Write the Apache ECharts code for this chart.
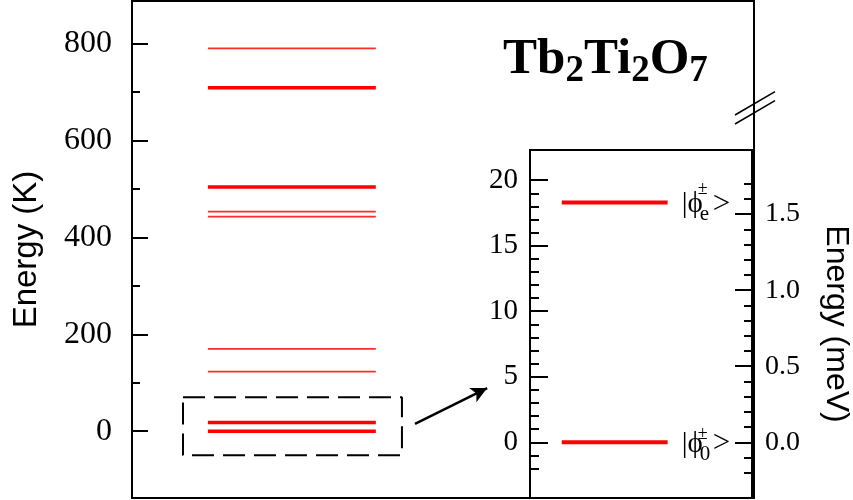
<!DOCTYPE html>
<html><head><meta charset="utf-8">
<script src="https://cdn.jsdelivr.net/npm/echarts@6/dist/echarts.min.js"></script>
<style>html,body{margin:0;padding:0;background:#fff}#c{width:853px;height:500px}</style>
</head><body><div id="c"></div>
<script>
// ---- data (Kelvin) ----
const levelsThick = [0, 18, 504, 709];          // doublets
const levelsThin = [123, 170, 443, 453, 790];   // singlets
const mainTicks = [0, 200, 400, 600, 800];
const mainMinorTicks = [100, 300, 500, 700];
const insetLevels = [0, 18.3];
const insetSubs = ['0', 'e'];
const insetTicks = [0, 5, 10, 15, 20];
const insetMinorTicks = [-2, -1, 1, 2, 3, 4, 6, 7, 8, 9, 11, 12, 13, 14, 16, 17, 18, 19];
const meVTicks = [0.0, 0.5, 1.0, 1.5];
const meVMinorTicks = [-0.2, -0.1, 0.1, 0.2, 0.3, 0.4, 0.6, 0.7, 0.8, 0.9, 1.1, 1.2, 1.3, 1.4, 1.6, 1.7];
const K_PER_MEV = 11.6045;

// ---- layout (data units of the axes) ----
const mainRange = [-138, 888];
const insetRange = [-4.25, 22.3];
const levelSpan = [0.122, 0.392];
const boxX = [0.082, 0.434], boxY = [-50, 70];
const arrowFrom = [0.455, 15], arrowTo = [0.571, 89];
const breaks = [[[0.1, 0.333], [0.9, 0.851]], [[0.1, 0.133], [0.9, 0.651]]];
const insetSpan = [0.143, 0.62];
const insetLabelX = 0.683;

const serif = 'Liberation Serif', sans = 'Liberation Sans';
const series = [];
levelsThick.forEach(v => series.push({type:'line', xAxisIndex:0, yAxisIndex:0, symbol:'none', silent:true,
  data:[[levelSpan[0], v], [levelSpan[1], v]], lineStyle:{color:'#ff0000', width:3.5}}));
levelsThin.forEach(v => series.push({type:'line', xAxisIndex:0, yAxisIndex:0, symbol:'none', silent:true,
  data:[[levelSpan[0], v], [levelSpan[1], v]], lineStyle:{color:'#ff2a2a', width:1.7}}));
series.push({type:'line', xAxisIndex:0, yAxisIndex:0, symbol:'none', silent:true,
  data:[[boxX[0], boxY[1]], [boxX[1], boxY[1]], [boxX[1], boxY[0]], [boxX[0], boxY[0]], [boxX[0], boxY[1]]],
  lineStyle:{color:'#000', width:2, type:[22, 9]},
  markLine:{silent:true, symbol:['none', 'arrow'], symbolSize:[12, 16], label:{show:false},
    lineStyle:{color:'#000', width:2.5, type:'solid'},
    data:[[{coord:arrowFrom}, {coord:arrowTo}]]}});
breaks.forEach(b => series.push({type:'line', xAxisIndex:2, yAxisIndex:6, symbol:'none', silent:true, z:10,
  data:b, lineStyle:{color:'#000', width:1.5}}));
insetLevels.forEach(v => series.push({type:'line', xAxisIndex:1, yAxisIndex:2, symbol:'none', silent:true, z:5,
  data:[[insetSpan[0], v], [insetSpan[1], v]], lineStyle:{color:'#ff0000', width:4}}));
const black = {color:'#000', opacity:1, textBorderWidth:0};
const labelData = [];
insetLevels.forEach((v, i) => {
  const plusDy = i === 0 ? -8 : -13;
  labelData.push({value:[insetLabelX, v], label:Object.assign({show:true, position:'right', distance:0, offset:[0, 2],
    formatter:'{p|\u007C\u03D5}{q|>}',
    rich:{p:{fontFamily:serif + ',DejaVu Serif', fontSize:29, color:'#000'},
          q:{fontFamily:serif, fontSize:31, color:'#000', padding:[0,0,0,10]}}}, black)});
  labelData.push({value:[insetLabelX, v], label:Object.assign({show:true, position:'right', distance:0, offset:[16, plusDy],
    formatter:'±', fontFamily:serif, fontSize:18}, black)});
  labelData.push({value:[insetLabelX, v], label:Object.assign({show:true, position:'right', distance:0, offset:[18, 12],
    formatter:insetSubs[i], fontFamily:serif, fontSize:21}, black)});
});
series.push({type:'scatter', xAxisIndex:1, yAxisIndex:2, symbolSize:0, silent:true, z:6,
  itemStyle:{opacity:1, color:'#000'}, emphasis:{disabled:true}, data:labelData});

const tickStyle = {color:'#000', width:2};
function yax(o) {
  return Object.assign({type:'value', splitLine:{show:false}, axisLine:{show:false}}, o);
}
const option = {
  animation:false,
  backgroundColor:'#fff',
  title:{text:'{b|Tb}{s|2}{b|Ti}{s|2}{b|O}{s|7}', left:503, top:30, padding:0,
    textStyle:{rich:{
      b:{fontFamily:serif, fontWeight:'bold', fontSize:51, lineHeight:60, color:'#000'},
      s:{fontFamily:serif, fontWeight:'bold', fontSize:37, lineHeight:22, verticalAlign:'bottom', color:'#000'}}}},
  grid:[
    {left:132, top:1, right:99, bottom:2, show:true, borderColor:'#000', borderWidth:2, backgroundColor:'transparent'},
    {left:530, top:150, right:99, bottom:2, show:true, borderColor:'#000', borderWidth:2, backgroundColor:'#fff'},
    {left:730, top:85, width:50, height:45, show:false}
  ],
  xAxis:[
    {gridIndex:0, type:'value', min:0, max:1, show:false},
    {gridIndex:1, type:'value', min:0, max:1, show:false},
    {gridIndex:2, type:'value', min:0, max:1, show:false}
  ],
  yAxis:[
    yax({gridIndex:0, position:'left', min:mainRange[0], max:mainRange[1],
      axisTick:{inside:true, length:16, lineStyle:tickStyle, customValues:mainTicks},
      axisLabel:{customValues:mainTicks, fontFamily:serif, fontSize:32, color:'#000', margin:20},
      name:'Energy (K)', nameLocation:'middle', nameGap:89,
      nameTextStyle:{fontFamily:sans, fontSize:33, color:'#000'}}),
    yax({gridIndex:0, position:'left', min:mainRange[0], max:mainRange[1],
      axisTick:{inside:true, length:8, lineStyle:tickStyle, customValues:mainMinorTicks},
      axisLabel:{show:false}}),
    yax({gridIndex:1, position:'left', min:insetRange[0], max:insetRange[1],
      axisTick:{inside:true, length:18, lineStyle:tickStyle, customValues:insetTicks},
      axisLabel:{customValues:insetTicks, fontFamily:serif, fontSize:29, color:'#000', margin:12}}),
    yax({gridIndex:1, position:'left', min:insetRange[0], max:insetRange[1],
      axisTick:{inside:true, length:9, lineStyle:tickStyle, customValues:insetMinorTicks},
      axisLabel:{show:false}}),
    yax({gridIndex:1, position:'right', min:insetRange[0] / K_PER_MEV, max:insetRange[1] / K_PER_MEV,
      axisTick:{inside:true, length:17, lineStyle:tickStyle, customValues:meVTicks},
      axisLabel:{customValues:meVTicks, formatter:v => v.toFixed(1), fontFamily:serif, fontSize:28, color:'#000', margin:13},
      name:'Energy (meV)', nameLocation:'middle', nameRotate:-90, nameGap:68,
      nameTextStyle:{fontFamily:sans, fontSize:32, color:'#000'}}),
    yax({gridIndex:1, position:'right', min:insetRange[0] / K_PER_MEV, max:insetRange[1] / K_PER_MEV,
      axisTick:{inside:true, length:8, lineStyle:tickStyle, customValues:meVMinorTicks},
      axisLabel:{show:false}}),
    {gridIndex:2, type:'value', min:0, max:1, show:false}
  ],
  series:series
};
const chart = echarts.init(document.getElementById('c'), null, {renderer:'canvas'});
chart.setOption(option);
</script></body></html>
